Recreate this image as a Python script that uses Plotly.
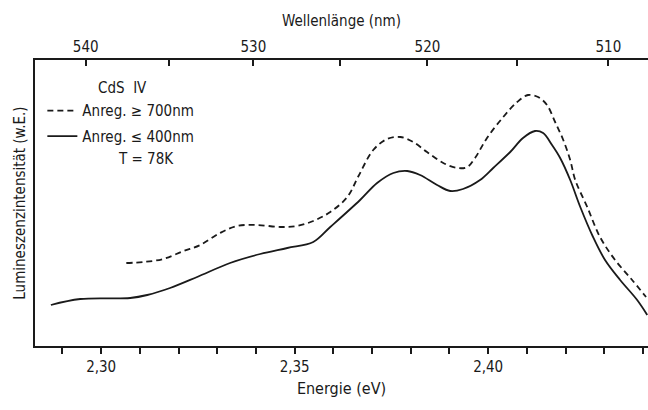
import plotly.graph_objects as go

# Energy (eV) and luminescence intensity (arb. units)
e_solid = [2.2870, 2.2946, 2.3075, 2.3119, 2.3178, 2.3248, 2.3333, 2.3411, 2.3481,
           2.3548, 2.3592, 2.3669, 2.3713, 2.3755, 2.3791, 2.3824, 2.3868, 2.3902,
           2.3935, 2.3979, 2.4013, 2.4057, 2.4090, 2.4121, 2.4142, 2.4165, 2.4186,
           2.4212, 2.4238, 2.4271, 2.4302, 2.4341, 2.4385, 2.4411]
i_solid = [41, 47, 48, 51, 58, 69, 83, 92, 98,
           104, 119, 146, 163, 173, 175, 171, 161, 155,
           157, 166, 178, 194, 208, 215, 213, 201, 188,
           166, 139, 109, 86, 66, 46, 31]

e_dash = [2.3065, 2.3109, 2.3160, 2.3213, 2.3256, 2.3307, 2.3351, 2.3403, 2.3463,
          2.3506, 2.3548, 2.3592, 2.3636, 2.3665, 2.3703, 2.3739, 2.3773, 2.3806,
          2.3842, 2.3884, 2.3920, 2.3946, 2.3966, 2.3997, 2.4039, 2.4075, 2.4103,
          2.4129, 2.4152, 2.4173, 2.4194, 2.4212, 2.4225, 2.4256, 2.4289, 2.4328,
          2.4372, 2.4408]
i_dash = [83, 84, 87, 95, 101, 113, 120, 121, 119,
          120, 125, 134, 149, 170, 196, 207, 209, 204,
          194, 183, 178, 179, 188, 208, 229, 244, 251,
          249, 241, 224, 206, 186, 166, 139, 109, 86,
          66, 49]

energy_ticks = [2.30, 2.35, 2.40]
wavelength_ticks = [540, 530, 520, 510]
wavelength_minor = [540, 535, 530, 525, 520, 515, 510]

x_range = [2.2829, 2.4413]
FONT = "DejaVu Sans Condensed, Liberation Sans Narrow, Arial Narrow, DejaVu Sans, sans-serif"
INK = "#1a1a1a"

fig = go.Figure()
fig.add_trace(go.Scatter(x=e_dash, y=i_dash, mode="lines", name="Anreg. \u2265 700nm",
                         line=dict(color=INK, width=1.8, dash="6px,4px", shape="spline"),
                         legendgroup="a"))
fig.add_trace(go.Scatter(x=e_solid, y=i_solid, mode="lines", name="Anreg. \u2264 400nm",
                         line=dict(color=INK, width=1.8, shape="spline"),
                         legendgroup="b"))
# invisible trace to host the top (wavelength) axis
fig.add_trace(go.Scatter(x=x_range, y=[None, None], xaxis="x2", showlegend=False,
                         hoverinfo="skip"))

top_vals = [1239.84 / w for w in wavelength_minor]
top_text = [str(w) if w in wavelength_ticks else "" for w in wavelength_minor]

fig.update_layout(
    width=648, height=410,
    margin=dict(l=35, r=0, t=60, b=64),
    paper_bgcolor="white", plot_bgcolor="white",
    separators=",.",
    font=dict(family=FONT, size=15, color=INK),
    showlegend=True,
    legend=dict(x=0.012, y=0.88, xanchor="left", yanchor="top",
                bgcolor="rgba(0,0,0,0)", font=dict(size=15), tracegroupgap=3,
                itemwidth=30),
    xaxis=dict(range=x_range, tickvals=energy_ticks, tickformat=".2f",
               ticks="outside", ticklen=6, tickwidth=1.5, tickcolor=INK,
               minor=dict(dtick=0.01, tick0=2.30, ticks="outside", ticklen=6,
                          tickwidth=1.5, tickcolor=INK),
               showline=True, linecolor=INK, linewidth=2.2,
               showgrid=False, zeroline=False,
               title=dict(text="Energie (eV)", standoff=8, font=dict(size=16))),
    xaxis2=dict(range=x_range, overlaying="x", side="top", tickvals=top_vals,
                ticktext=top_text, ticks="inside", ticklen=6, tickwidth=1.5,
                tickcolor=INK, showline=True, linecolor=INK,
                linewidth=1.8, showgrid=False, zeroline=False,
                title=dict(text="Wellenl\u00e4nge (nm)", standoff=8, font=dict(size=15))),
    yaxis=dict(range=[0, 286], showticklabels=False, ticks="", showgrid=False,
               zeroline=False, showline=True, linecolor=INK, linewidth=1.6,
               title=dict(text="Lumineszenzintensit\u00e4t (w.E.)", standoff=4,
                          font=dict(size=15))),
)

fig.add_annotation(text="CdS  IV", xref="x", yref="y", x=2.2987, y=258,
                   xanchor="left", yanchor="middle", showarrow=False,
                   font=dict(size=15))
fig.add_annotation(text="T = 78K", xref="x", yref="y", x=2.3038, y=187,
                   xanchor="left", yanchor="middle", showarrow=False,
                   font=dict(size=15))

fig.write_html("out.html")
